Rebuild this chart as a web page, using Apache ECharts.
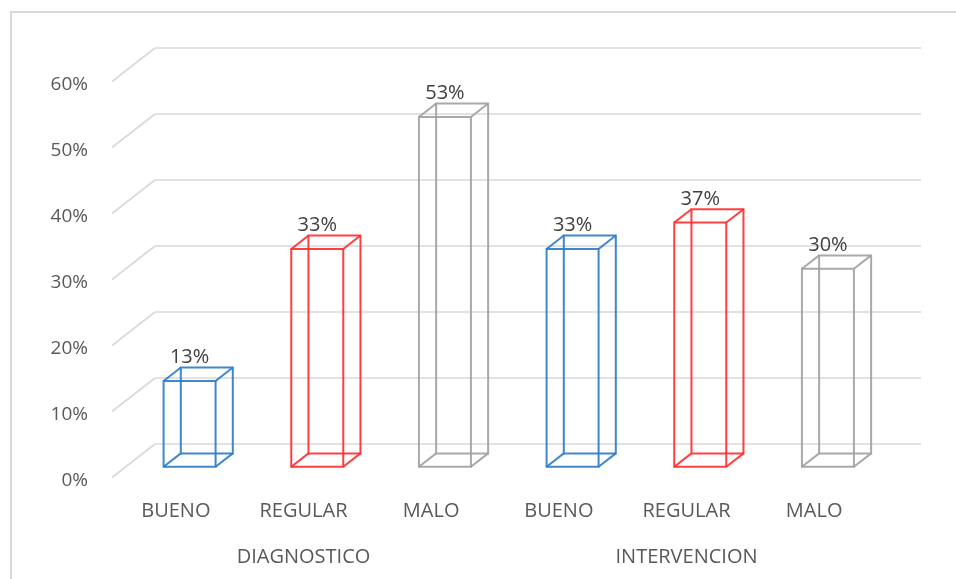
<!DOCTYPE html>
<html>
<head>
<meta charset="utf-8">
<script src="https://cdn.jsdelivr.net/npm/echarts@6/dist/echarts.min.js"></script>
<style>
  html, body { margin: 0; padding: 0; background: #fff; }
  #chart { width: 956px; height: 579px; }
</style>
</head>
<body>
<div id="chart"></div>
<script>
// Groups, levels and percentages for each bar
const grupos = ['DIAGNOSTICO', 'INTERVENCION'];
const niveles = ['BUENO', 'REGULAR', 'MALO', 'BUENO', 'REGULAR', 'MALO'];
const porcentajes = [13, 33, 53, 33, 37, 30];
const coloresNivel = ['#2A7AC9', '#FF2B2B', '#A0A0A0', '#2A7AC9', '#FF2B2B', '#A0A0A0'];
const ticks = [0, 10, 20, 30, 40, 50, 60];

// Perspective: floor depth vector (back wall -> front edge)
const DEPTH_X = -43, DEPTH_Y = 33.5;
const FRONT_FRAC = 0.68, BACK_FRAC = 0.28;   // where each bar sits in the depth
const HALF_FACE = 26;                         // half width of a bar face
const LABEL_DROP = 3.5;                       // labels sit slightly below the front edge

const TXT = '#595959';
const FONT = 'Open Sans';

const chart = echarts.init(document.getElementById('chart'), null, { renderer: 'canvas' });

function renderBox(params, api) {
  const i = api.value(0), v = api.value(1);
  const base = api.coord([i, 0]);
  const top = api.coord([i, v]);
  const color = coloresNivel[i];
  const fdx = DEPTH_X * FRONT_FRAC, fdy = DEPTH_Y * FRONT_FRAC;
  const bdx = DEPTH_X * BACK_FRAC, bdy = DEPTH_Y * BACK_FRAC;
  const fL = base[0] + fdx - HALF_FACE, fR = base[0] + fdx + HALF_FACE;
  const fB = base[1] + fdy, fT = top[1] + fdy;
  const bL = base[0] + bdx - HALF_FACE, bR = base[0] + bdx + HALF_FACE;
  const bB = base[1] + bdy, bT = top[1] + bdy;
  const style = { stroke: color, lineWidth: 2, fill: null, opacity: 0.9 };
  const seg = (x1, y1, x2, y2) => ({ type: 'line', shape: { x1, y1, x2, y2 }, style });
  return {
    type: 'group',
    children: [
      { type: 'rect', shape: { x: bL, y: bT, width: bR - bL, height: bB - bT }, style },
      { type: 'rect', shape: { x: fL, y: fT, width: fR - fL, height: fB - fT }, style },
      seg(fL, fT, bL, bT), seg(fR, fT, bR, bT),
      seg(fL, fB, bL, bB), seg(fR, fB, bR, bB),
      {
        type: 'text',
        style: {
          x: (fL + fR) / 2, y: bT - 10,
          text: v + '%', align: 'center', verticalAlign: 'middle',
          fill: '#404040', font: '20px "' + FONT + '"'
        }
      }
    ]
  };
}

function renderSlant(params, api) {
  const y = api.coord([0, api.value(1)])[1];
  const x = params.coordSys.x;
  return {
    type: 'line',
    shape: { x1: x, y1: y, x2: x + DEPTH_X, y2: y + DEPTH_Y },
    style: { stroke: '#D9D9D9', lineWidth: 1.6 }
  };
}

chart.setOption({
  backgroundColor: '#fff',
  animation: false,
  graphic: [{
    type: 'rect',
    shape: { x: 11, y: 12, width: 1000, height: 1000 },
    style: { fill: null, stroke: '#D9D9D9', lineWidth: 2 },
    silent: true
  }],
  grid: [
    // back wall
    { left: 155, right: 35, top: 48, bottom: 135 },
    // front edge of the floor (carries the labels)
    { left: 155 + DEPTH_X, right: 35 - DEPTH_X,
      top: 48 + DEPTH_Y + LABEL_DROP, bottom: 135 - DEPTH_Y - LABEL_DROP }
  ],
  xAxis: [
    { gridIndex: 0, type: 'category', data: niveles, boundaryGap: true,
      axisLine: { show: false }, axisTick: { show: false }, axisLabel: { show: false } },
    { gridIndex: 1, type: 'category', data: niveles, boundaryGap: true,
      axisLine: { show: false }, axisTick: { show: false },
      axisLabel: { color: TXT, fontFamily: FONT, fontSize: 20, margin: 24 - LABEL_DROP } },
    { gridIndex: 1, type: 'category', data: grupos, position: 'bottom', boundaryGap: true,
      axisLine: { show: false }, axisTick: { show: false },
      axisLabel: { color: TXT, fontFamily: FONT, fontSize: 20, margin: 70 - LABEL_DROP } }
  ],
  yAxis: [
    { gridIndex: 0, type: 'value', min: 0, max: 60, interval: 10,
      axisLine: { show: false }, axisTick: { show: false }, axisLabel: { show: false },
      splitLine: { lineStyle: { color: '#D9D9D9', width: 1.6 } } },
    { gridIndex: 1, type: 'value', min: 0, max: 60, interval: 10,
      axisLine: { show: false }, axisTick: { show: false }, splitLine: { show: false },
      axisLabel: { color: TXT, fontFamily: FONT, fontSize: 19, margin: 24,
        formatter: v => v + '%' } }
  ],
  series: [
    { type: 'custom', xAxisIndex: 0, yAxisIndex: 0, renderItem: renderSlant,
      data: ticks.map(t => [0, t]), silent: true, z: 1 },
    { type: 'custom', xAxisIndex: 0, yAxisIndex: 0, renderItem: renderBox,
      data: porcentajes.map((v, i) => [i, v]), z: 3 }
  ]
});
</script>
</body>
</html>
